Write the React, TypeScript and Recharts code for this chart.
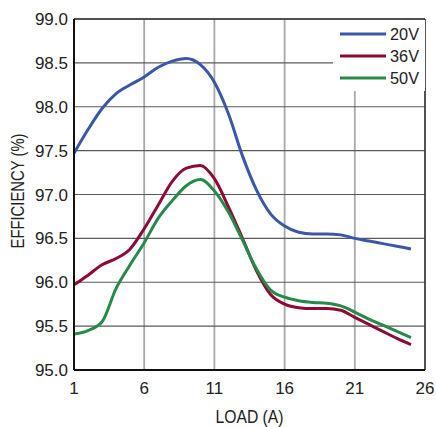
import React from 'react';
import { LineChart, Line, XAxis, YAxis, CartesianGrid, ReferenceLine, Label } from 'recharts';

// Load current (A)
const loads = [1, 2, 3, 4, 5, 6, 7, 8, 9, 10, 11, 12, 13, 14, 15, 16, 17, 18, 19, 20, 21, 22, 23, 24, 25];

// Efficiency (%) per input voltage
const eff20V = [97.47, 97.74, 97.98, 98.15, 98.25, 98.34, 98.45, 98.52, 98.55, 98.48, 98.28, 97.92, 97.44, 97.05, 96.78, 96.64, 96.57, 96.55, 96.55, 96.54, 96.5, 96.47, 96.44, 96.41, 96.38];
const eff36V = [95.97, 96.08, 96.2, 96.27, 96.38, 96.61, 96.88, 97.15, 97.3, 97.33, 97.18, 96.86, 96.5, 96.13, 95.86, 95.75, 95.71, 95.7, 95.7, 95.68, 95.6, 95.52, 95.44, 95.36, 95.29];
const eff50V = [95.41, 95.45, 95.55, 95.93, 96.2, 96.45, 96.73, 96.93, 97.1, 97.17, 97.04, 96.8, 96.48, 96.15, 95.91, 95.83, 95.79, 95.77, 95.76, 95.73, 95.66, 95.58, 95.51, 95.44, 95.37];

const xTicks = [1, 6, 11, 16, 21, 26];
const yTicks = [95, 95.5, 96, 96.5, 97, 97.5, 98, 98.5, 99];

const series = [
    { key: 'v20', name: '20V', color: '#3b58a8' },
    { key: 'v36', name: '36V', color: '#8e0a35' },
    { key: 'v50', name: '50V', color: '#268a4a' },
];

const FONT = '"Liberation Sans", Arial, sans-serif';

const chartData = loads.map((x, i) => ({ load: x, v20: eff20V[i], v36: eff36V[i], v50: eff50V[i] }));

const TickText = ({ x, y, payload, textAnchor, vertical }: any) => {
    const label = vertical ? Number(payload.value).toFixed(1) : String(payload.value);
    return (
        <text
            x={x}
            y={y}
            dy={vertical ? '0.36em' : '0.72em'}
            textAnchor={textAnchor}
            fontFamily={FONT}
            fontSize={17}
            fill="#222"
        >
            {label}
        </text>
    );
};

// legend drawn as an overlay box in the top-right corner of the plot
const LegendBox = () => (
    <svg width={92} height={71} style={{ position: 'absolute', left: 333, top: 20, background: '#fff' }}>
        {series.map((s, i) => (
            <g key={s.key}>
                <line x1={7} x2={53} y1={14 + i * 22} y2={14 + i * 22} stroke={s.color} strokeWidth={3} />
                <text x={57} y={14 + i * 22} dy="0.36em" fontFamily={FONT} fontSize={17} fill="#222" textLength={29} lengthAdjust="spacingAndGlyphs">
                    {s.name}
                </text>
            </g>
        ))}
    </svg>
);

export default function App() {
    return (
        <div style={{ position: 'absolute', left: 0, top: 0, width: 436, height: 427, background: '#fff' }}>
            <LineChart width={436} height={427} data={chartData} margin={{ top: 19, right: 11, left: 14, bottom: 7 }}>
                {/* light vertical grid, darker horizontal grid */}
                <CartesianGrid horizontal={false} stroke="#a8a8a8" strokeWidth={1.8} />
                <CartesianGrid vertical={false} stroke="#5a5a5a" strokeWidth={1.2} />
                <XAxis
                    type="number"
                    dataKey="load"
                    domain={[1, 26]}
                    ticks={xTicks}
                    tickLine={false}
                    tickSize={0}
                    tickMargin={12}
                    height={50}
                    stroke="#111"
                    strokeWidth={2}
                    tick={<TickText />}
                >
                    <Label
                        content={() => (
                            <text x={249.5} y={423} textAnchor="middle" fontFamily={FONT} fontSize={17.5} fill="#222" textLength={68} lengthAdjust="spacingAndGlyphs">
                                LOAD (A)
                            </text>
                        )}
                    />
                </XAxis>
                <YAxis
                    type="number"
                    domain={[95, 99]}
                    ticks={yTicks}
                    tickLine={false}
                    tickSize={0}
                    tickMargin={6}
                    width={60}
                    stroke="#111"
                    strokeWidth={2}
                    tick={<TickText vertical />}
                >
                    <Label
                        content={() => (
                            <text x={24} y={191} transform="rotate(-90 24 191)" textAnchor="middle" fontFamily={FONT} fontSize={17.5} fill="#222" textLength={115} lengthAdjust="spacingAndGlyphs">
                                EFFICIENCY (%)
                            </text>
                        )}
                    />
                </YAxis>
                <ReferenceLine y={99} stroke="#333" strokeWidth={1.5} />
                <ReferenceLine x={26} stroke="#333" strokeWidth={1.5} />
                {series.map((s) => (
                    <Line
                        key={s.key}
                        type="monotone"
                        dataKey={s.key}
                        name={s.name}
                        stroke={s.color}
                        strokeWidth={3}
                        dot={false}
                        isAnimationActive={false}
                    />
                ))}
            </LineChart>
            <LegendBox />
        </div>
    );
}
